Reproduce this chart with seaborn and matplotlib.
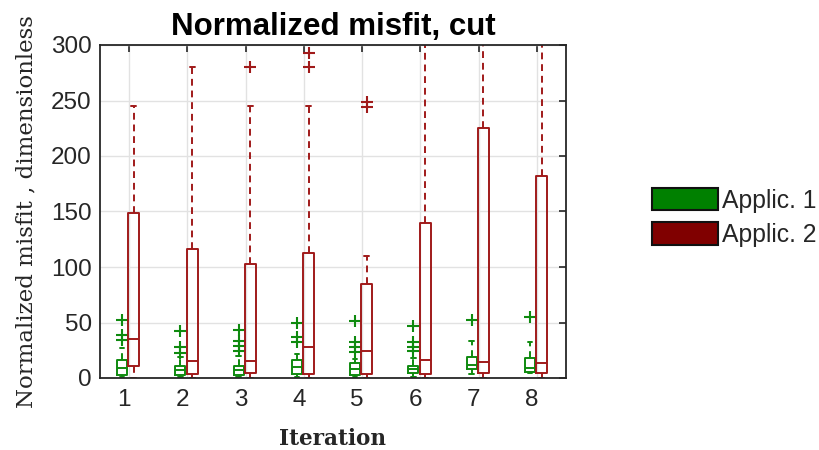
import numpy as np
import matplotlib
matplotlib.use("Agg")
import matplotlib.pyplot as plt
import matplotlib.transforms as mtransforms
import seaborn as sns
from matplotlib.patches import Patch

# ---------------- data ----------------
iterations = [1, 2, 3, 4, 5, 6, 7, 8]
series_labels = ["Applic. 1", "Applic. 2"]

# Applic. 1 (green)
a1_whislo = [0.5, 1.2, 1.2, 1.0, 1.0, 1.2, 3.6, 4.2]
a1_q1 = [2.7, 2.7, 2.7, 3.6, 2.7, 4.2, 7.8, 5.7]
a1_med = [9.0, 7.2, 7.2, 9.6, 7.8, 7.8, 12.0, 8.7]
a1_q3 = [16.0, 10.8, 10.8, 16.2, 13.2, 10.8, 19.2, 17.7]
a1_whishi = [27.0, 18.6, 19.8, 21.6, 16.8, 17.7, 33.3, 32.1]
a1_fliers = [[52, 39, 34], [42.3, 27.6, 22.8], [43, 33.6, 28.8, 24.6],
             [49.2, 36.5, 32], [51.6, 32.7, 28.2, 23.7], [46.8, 32.7, 28.2, 24.6],
             [52.3], [54.7]]

# Applic. 2 (dark red)
a2_whislo = [0.3, 0.3, 0.3, 0.3, 0.3, 0.3, 0.3, 0.3]
a2_q1 = [11.0, 3.6, 4.8, 3.6, 3.6, 3.6, 4.8, 4.2]
a2_med = [35.0, 15.6, 15.6, 28.2, 24.6, 16.2, 14.7, 13.8]
a2_q3 = [149.0, 116.0, 103.0, 113.0, 85.0, 140.0, 225.0, 182.0]
a2_whishi = [245.0, 280.0, 245.0, 245.0, 110.0, 330.0, 330.0, 330.0]
a2_fliers = [[], [], [280], [280, 292.5], [249, 244.5], [], [], []]

yticks = [0, 50, 100, 150, 200, 250, 300]

# ---------------- styling ----------------
sns.set_theme(style="white")
plt.rcParams['font.family'] = ['Liberation Sans', 'DejaVu Sans']

green_line = '#0F8A0F'
red_line = '#A01A1A'
green_fill = '#008000'
red_fill = '#800000'
txt = '#262626'

fig = plt.figure(figsize=(8.19, 4.5), dpi=100)
ax = fig.add_axes([100 / 819, 1 - 378 / 450, 466 / 819, 333 / 450])


def make_stats(lo, q1, med, q3, hi, fl):
    return [dict(whislo=a, q1=b, med=c, q3=d, whishi=e, fliers=np.array(f, dtype=float))
            for a, b, c, d, e, f in zip(lo, q1, med, q3, hi, fl)]


def draw(stats, pos, width, col):
    lw = 1.4
    ax.bxp(stats, positions=pos, widths=width, capwidths=width * 0.45,
           showfliers=True, patch_artist=False,
           boxprops=dict(color=col, lw=lw),
           whiskerprops=dict(color=col, lw=lw, linestyle=(0, (3.5, 2.5))),
           capprops=dict(color=col, lw=lw),
           medianprops=dict(color=col, lw=lw),
           flierprops=dict(marker='+', markeredgecolor=col, markersize=9,
                           markeredgewidth=1.5, linestyle='none'))


pos = np.array(iterations, dtype=float)
draw(make_stats(a1_whislo, a1_q1, a1_med, a1_q3, a1_whishi, a1_fliers), pos - 0.12, 0.17, green_line)
draw(make_stats(a2_whislo, a2_q1, a2_med, a2_q3, a2_whishi, a2_fliers), pos + 0.08, 0.19, red_line)

ax.set_xlim(0.5, 8.5)
ax.set_ylim(0, 300)
ax.set_xticks(iterations)
ax.set_xticklabels([str(i) for i in iterations])
ax.set_yticks(yticks)
ax.set_yticklabels([str(v) for v in yticks])
ax.grid(True, color='#e2e2e2', lw=1.0)
ax.set_axisbelow(True)
for s in ax.spines.values():
    s.set_visible(True)
    s.set_color(txt)
    s.set_linewidth(1.3)
ax.tick_params(direction='in', length=5, width=1.2, top=True, right=True,
               labelsize=17.5, colors=txt, pad=6)
ax.tick_params(axis='x', pad=8)
shift = mtransforms.ScaledTranslation(-5 / 100, 0, fig.dpi_scale_trans)
for t in ax.get_xticklabels():
    t.set_transform(t.get_transform() + shift)
for t in ax.get_xticklabels() + ax.get_yticklabels():
    t.set_color(txt)

ax.set_title('Normalized misfit, cut', fontsize=22.5, fontweight='bold', color='black', pad=7)
ax.set_xlabel('Iteration', family='DejaVu Serif', fontsize=15.5, fontweight='bold', color=txt, labelpad=12)
ax.set_ylabel('Normalized misfit , dimensionless', family='DejaVu Serif', fontsize=16.5,
              color=txt, labelpad=9.5)

handles = [Patch(facecolor=green_fill, edgecolor='#111111', lw=1.5),
           Patch(facecolor=red_fill, edgecolor='#111111', lw=1.5)]
fig.legend(handles, series_labels, loc='upper left', bbox_to_anchor=(652 / 819, 1 - 188 / 450),
           frameon=False, fontsize=17.8, handlelength=2.65, handleheight=1.0,
           labelspacing=0.4, handletextpad=0.2, borderaxespad=0, borderpad=0)

fig.savefig('out.png', dpi=100)
